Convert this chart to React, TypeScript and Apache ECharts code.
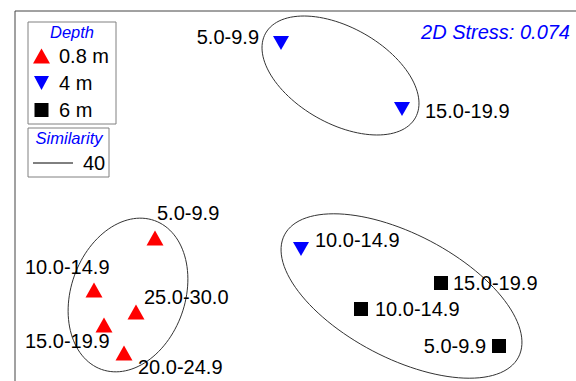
import { useEffect, useRef } from 'react';
import * as echarts from 'echarts';

// ---- data (nMDS coordinates) ----
const depthNames = ['0.8 m', '4 m', '6 m'];

const redLabels = ['5.0-9.9', '10.0-14.9', '25.0-30.0', '15.0-19.9', '20.0-24.9'];
const redX = [-1.10, -1.71, -1.29, -1.61, -1.41];
const redY = [-0.27, -0.79, -1.01, -1.14, -1.42];

const blueLabels = ['5.0-9.9', '15.0-19.9', '10.0-14.9'];
const blueX = [0.16, 1.37, 0.36];
const blueY = [1.68, 1.02, -0.38];

const blackLabels = ['15.0-19.9', '10.0-14.9', '5.0-9.9'];
const blackX = [1.76, 0.96, 2.34];
const blackY = [-0.72, -0.98, -1.35];

const stressValue = '0.074';
const similarityLevel = '40';

// similarity clusters: centre, semi-axes, angle (degrees)
const clusterCX = [0.755, -1.37, 1.365];
const clusterCY = [1.355, -0.84, -0.85];
const clusterA = [0.86, 0.79, 1.32];
const clusterB = [0.48, 0.57, 0.62];
const clusterAngle = [-29.5, 70.4, -27.6];

// ---- label placement (pixels) ----
const redPlace: [string, number, number][] = [
  ['left', 2, -25], ['left', -69, -23], ['left', 8, -15], ['left', -79, 16], ['left', 14, 14],
];
const bluePlace: [string, number, number][] = [
  ['right', -22, -6], ['left', 23, 2], ['left', 14, -9],
];
const blackPlace: [string, number, number][] = [
  ['left', 12, 0], ['left', 14, 0], ['right', -13, 0],
];

const FONT = "'Liberation Sans', Arial, sans-serif";
const downTri = 'path://M0,0 L16,0 L8,14 Z';
const downTriLegend = 'path://M0,0 M17,15 M1,0.5 L16,0.5 L8.5,14.5 Z';
const squareLegend = 'path://M0,0 M17,15 M1.5,0.5 L15.5,0.5 L15.5,14.5 L1.5,14.5 Z';

function pts(xs: number[], ys: number[], labels: string[], place: [string, number, number][]) {
  return xs.map((x, i) => ({
    value: [x, ys[i]],
    name: labels[i],
    label: { align: place[i][0], offset: [place[i][1], place[i][2]] },
  }));
}

const labelBase = {
  show: true,
  position: 'inside',
  formatter: '{b}',
  fontSize: 20,
  color: '#000',
  fontFamily: FONT,
  verticalAlign: 'middle',
};

export default function App() {
  const ref = useRef<HTMLDivElement>(null);
  useEffect(() => {
    if (!ref.current) return;
    const chart = echarts.init(ref.current, null, { renderer: 'svg' });
    const option: any = {
      animation: false,
      backgroundColor: '#fff',
      grid: {
        left: 15, top: 11, width: 600, height: 400, show: true, borderColor: '#444', borderWidth: 1,
        outerBoundsMode: 'none', containLabel: false,
      },
      xAxis: { type: 'value', min: -2.5, max: 3.5, show: false },
      yAxis: { type: 'value', min: -2, max: 2, show: false },
      legend: {
        data: [
          { name: depthNames[0], icon: 'triangle' },
          { name: depthNames[1], icon: downTriLegend },
          { name: depthNames[2], icon: squareLegend },
        ],
        orient: 'vertical',
        left: 33,
        top: 46,
        itemWidth: 17,
        itemHeight: 15,
        itemGap: 7,
        selectedMode: false,
        padding: 0,
        textStyle: { fontSize: 20, color: '#000', fontFamily: FONT, lineHeight: 20, padding: [0, 0, 0, 4] },
      },
      graphic: [
        { type: 'rect', shape: { x: 28, y: 22, width: 88, height: 102 }, style: { fill: 'none', stroke: '#808080', lineWidth: 1 } },
        { type: 'text', x: 72, y: 32, style: { text: 'Depth', fill: '#0000ff', fontSize: 16.5, fontStyle: 'italic', fontFamily: FONT, align: 'center', verticalAlign: 'middle' } },
        { type: 'rect', shape: { x: 28, y: 128, width: 81, height: 49 }, style: { fill: 'none', stroke: '#808080', lineWidth: 1 } },
        { type: 'text', x: 69, y: 138, style: { text: 'Similarity', fill: '#0000ff', fontSize: 16.5, fontStyle: 'italic', fontFamily: FONT, align: 'center', verticalAlign: 'middle' } },
        { type: 'line', shape: { x1: 33, y1: 163, x2: 73, y2: 163 }, style: { stroke: '#000', lineWidth: 1 } },
        { type: 'text', x: 83, y: 163, style: { text: similarityLevel, fill: '#000', fontSize: 20, fontFamily: FONT, align: 'left', verticalAlign: 'middle' } },
        { type: 'text', x: 570, y: 32, style: { text: '2D Stress: ' + stressValue, fill: '#0000ff', fontSize: 20, fontStyle: 'italic', fontFamily: FONT, align: 'right', verticalAlign: 'middle' } },
      ],
      series: [
        {
          name: 'Similarity ' + similarityLevel,
          type: 'custom',
          silent: true,
          z: 1,
          data: clusterCX.map((x, i) => [x, clusterCY[i], clusterA[i], clusterB[i], clusterAngle[i]]),
          renderItem: (_params: any, api: any) => {
            const cx = api.value(0), cy = api.value(1), a = api.value(2), b = api.value(3);
            const ang = (api.value(4) * Math.PI) / 180;
            const points: number[][] = [];
            const n = 120;
            for (let i = 0; i < n; i++) {
              const t = (i / n) * Math.PI * 2;
              const ex = a * Math.cos(t), ey = b * Math.sin(t);
              points.push(api.coord([cx + ex * Math.cos(ang) - ey * Math.sin(ang), cy + ex * Math.sin(ang) + ey * Math.cos(ang)]));
            }
            return { type: 'polygon', shape: { points }, style: { fill: 'none', stroke: '#333', lineWidth: 1 } };
          },
        },
        {
          name: depthNames[0],
          type: 'scatter',
          symbol: 'triangle',
          symbolSize: [17, 15],
          z: 3,
          itemStyle: { color: '#ff0000', opacity: 1 },
          label: labelBase,
          data: pts(redX, redY, redLabels, redPlace),
        },
        {
          name: depthNames[1],
          type: 'scatter',
          symbol: downTri,
          symbolSize: [16, 14],
          z: 3,
          itemStyle: { color: '#0000ff', opacity: 1 },
          label: labelBase,
          data: pts(blueX, blueY, blueLabels, bluePlace),
        },
        {
          name: depthNames[2],
          type: 'scatter',
          symbol: 'rect',
          symbolSize: [14, 14],
          z: 3,
          itemStyle: { color: '#000000', opacity: 1 },
          label: labelBase,
          data: pts(blackX, blackY, blackLabels, blackPlace),
        },
      ],
    };
    chart.setOption(option);
    return () => chart.dispose();
  }, []);
  return <div ref={ref} style={{ position: 'fixed', left: 0, top: 0, width: 576, height: 381 }} />;
}
